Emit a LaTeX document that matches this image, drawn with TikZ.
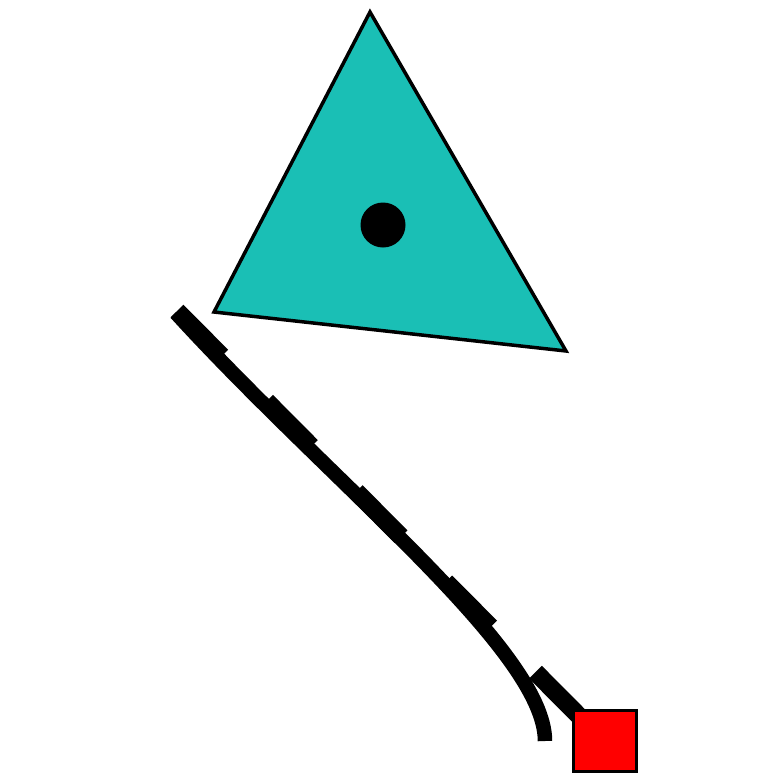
\documentclass[tikz,border=0pt]{standalone}
\definecolor{tealfill}{RGB}{26,191,181}
\begin{document}
\begin{tikzpicture}[x=1pt,y=-1pt,
  outline/.style={draw=black,line width=3.5pt,line join=miter},
  thickline/.style={draw=black,line width=14.5pt,line cap=butt}]
\useasboundingbox (0,0) rectangle (780,780);
% triangle
\path[outline,fill=tealfill] (370,12) -- (214,312) -- (566,351) -- cycle;
\fill[black] (383,225) circle (22.5);
% endpoints
\coordinate (s) at (176,313);
\coordinate (s2) at (177,311);
\coordinate (e) at (545,741);
% red square
\node[outline,fill=red,minimum width=63pt,minimum height=61pt,inner sep=0pt,outer sep=0pt,anchor=north west] (sq) at (573.5,710.5) {};
% curve
\draw[thickline] (s) .. controls (330,482) and (545,650) .. (e);
% dashed straight line
\draw[thickline,line width=18pt,dash pattern=on 63.6pt off 63.6pt] (s2) -- ([shift={(6,6)}]sq.north west);
\node[outline,fill=red,minimum width=63pt,minimum height=61pt,inner sep=0pt,outer sep=0pt,anchor=north west] (sqtop) at (573.5,710.5) {};
\end{tikzpicture}
\end{document}
